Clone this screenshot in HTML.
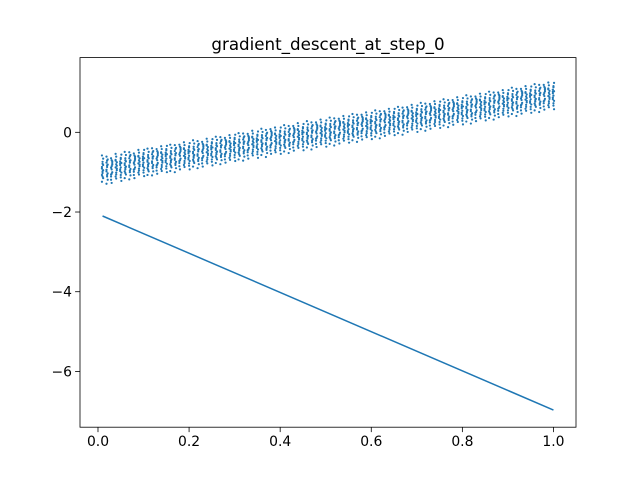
<!DOCTYPE html>
<html><head><meta charset="utf-8"><style>
html,body{margin:0;padding:0;background:#fff;}
svg{display:block;font-family:"DejaVu Sans","Liberation Sans",sans-serif;}
</style></head><body>
<svg id="chart" width="640" height="480" xmlns="http://www.w3.org/2000/svg">
<rect width="640" height="480" fill="#fff"/>
<text x="328" y="50" text-anchor="middle" font-size="16.7" fill="#000">gradient_descent_at_step_0</text>
<g id="scatter"></g>
<g id="line"></g>
<rect x="80" y="57.6" width="496" height="369.6" fill="none" stroke="#000" stroke-width="0.8"/>
<g id="xaxis"></g>
<g id="yaxis"></g>
</svg>
<script>
const colX = [];
for (let i = 1; i <= 100; i++) colX.push(i / 100);
const colCenters = [-0.93,-0.91,-0.94,-0.87,-0.86,-0.84,-0.80,-0.82,-0.77,-0.74,
-0.76,-0.70,-0.71,-0.68,-0.64,-0.66,-0.62,-0.60,-0.58,-0.57,
-0.55,-0.52,-0.53,-0.49,-0.47,-0.46,-0.42,-0.43,-0.40,-0.36,
-0.37,-0.33,-0.33,-0.29,-0.28,-0.26,-0.24,-0.21,-0.21,-0.18,
-0.17,-0.14,-0.13,-0.10,-0.09,-0.07,-0.05,-0.04,-0.01,0.00,
0.02,0.05,0.05,0.08,0.10,0.11,0.14,0.15,0.17,0.19,
0.20,0.23,0.24,0.26,0.29,0.29,0.32,0.34,0.36,0.37,
0.39,0.42,0.42,0.45,0.47,0.48,0.51,0.52,0.55,0.56,
0.58,0.60,0.61,0.64,0.66,0.67,0.70,0.71,0.73,0.76,
0.77,0.79,0.80,0.83,0.85,0.86,0.89,0.90,0.92,0.94];
const noiseP0 = [0.02,-0.05,0.11,-0.14,0.19,-0.22,0.06,-0.09,0.27,-0.31,0.14,-0.02,0.35,-0.18];
const noiseP1 = [-0.03,0.08,-0.12,0.15,-0.20,0.23,-0.07,0.04,-0.28,0.30,-0.16,0.10,-0.38,0.20];
const noiseP2 = [0.05,-0.10,0.13,-0.17,0.01,0.21,-0.25,0.09,-0.06,0.29,-0.33,0.17,-0.12,0.24];
const noiseP3 = [-0.01,0.07,-0.08,0.16,-0.19,0.12,-0.24,0.26,-0.04,0.33,-0.29,0.03,0.18,-0.14];
const noiseP4 = [0.04,-0.02,0.09,-0.11,0.22,-0.15,0.13,-0.27,0.30,-0.07,0.19,-0.36,0.08,-0.21];
const lineX = [0.01, 0.25, 0.5, 0.75, 1.0];
const lineY = [-2.10, -3.28, -4.51, -5.74, -6.97];
const xTicks = [0.0, 0.2, 0.4, 0.6, 0.8, 1.0];
const xTickLabels = ["0.0","0.2","0.4","0.6","0.8","1.0"];
const yTicks = [0, -2, -4, -6];
const yTickLabels = ["0","\u22122","\u22124","\u22126"];

const NS = "http://www.w3.org/2000/svg";
const L=80, R=576, T=57.6, B=427.2;
const xMin=-0.0395, xMax=1.0495, yMin=-7.40, yMax=1.875;
const sx = v => L + (v - xMin) / (xMax - xMin) * (R - L);
const sy = v => B - (v - yMin) / (yMax - yMin) * (B - T);
const noise = [noiseP0, noiseP1, noiseP2, noiseP3, noiseP4];

const sc = document.getElementById('scatter');
colX.forEach((x, i) => {
  const pat = noise[i % 5];
  pat.forEach((n, j) => {
    const c = document.createElementNS(NS, 'circle');
    c.setAttribute('cx', sx(x) + ((j % 3) - 1) * 0.6);
    c.setAttribute('cy', sy(colCenters[i] + n));
    c.setAttribute('r', 1.1);
    c.setAttribute('fill', '#1f77b4');
    
    
    sc.appendChild(c);
  });
});

const ln = document.createElementNS(NS, 'polyline');
ln.setAttribute('points', lineX.map((x, i) => sx(x) + ',' + sy(lineY[i])).join(' '));
ln.setAttribute('fill', 'none');
ln.setAttribute('stroke', '#1f77b4');
ln.setAttribute('stroke-width', '1.5');


document.getElementById('line').appendChild(ln);

const xa = document.getElementById('xaxis');
xTicks.forEach((t, i) => {
  const X = sx(t);
  const tk = document.createElementNS(NS, 'line');
  tk.setAttribute('x1', X); tk.setAttribute('x2', X);
  tk.setAttribute('y1', B); tk.setAttribute('y2', B + 4.9);
  tk.setAttribute('stroke', '#000'); tk.setAttribute('stroke-width', '0.8');
  
  
  xa.appendChild(tk);
  const tx = document.createElementNS(NS, 'text');
  tx.setAttribute('x', X); tx.setAttribute('y', B + 19);
  tx.setAttribute('text-anchor', 'middle'); tx.setAttribute('font-size', '13.9');
  tx.textContent = xTickLabels[i];
  
  
  xa.appendChild(tx);
});
const ya = document.getElementById('yaxis');
yTicks.forEach((t, i) => {
  const Y = sy(t);
  const tk = document.createElementNS(NS, 'line');
  tk.setAttribute('x1', L - 4.9); tk.setAttribute('x2', L);
  tk.setAttribute('y1', Y); tk.setAttribute('y2', Y);
  tk.setAttribute('stroke', '#000'); tk.setAttribute('stroke-width', '0.8');
  
  
  ya.appendChild(tk);
  const tx = document.createElementNS(NS, 'text');
  tx.setAttribute('x', L - 8); tx.setAttribute('y', Y + 5);
  tx.setAttribute('text-anchor', 'end'); tx.setAttribute('font-size', '13.9');
  tx.textContent = yTickLabels[i];
  
  
  ya.appendChild(tx);
});
</script>
</body></html>
